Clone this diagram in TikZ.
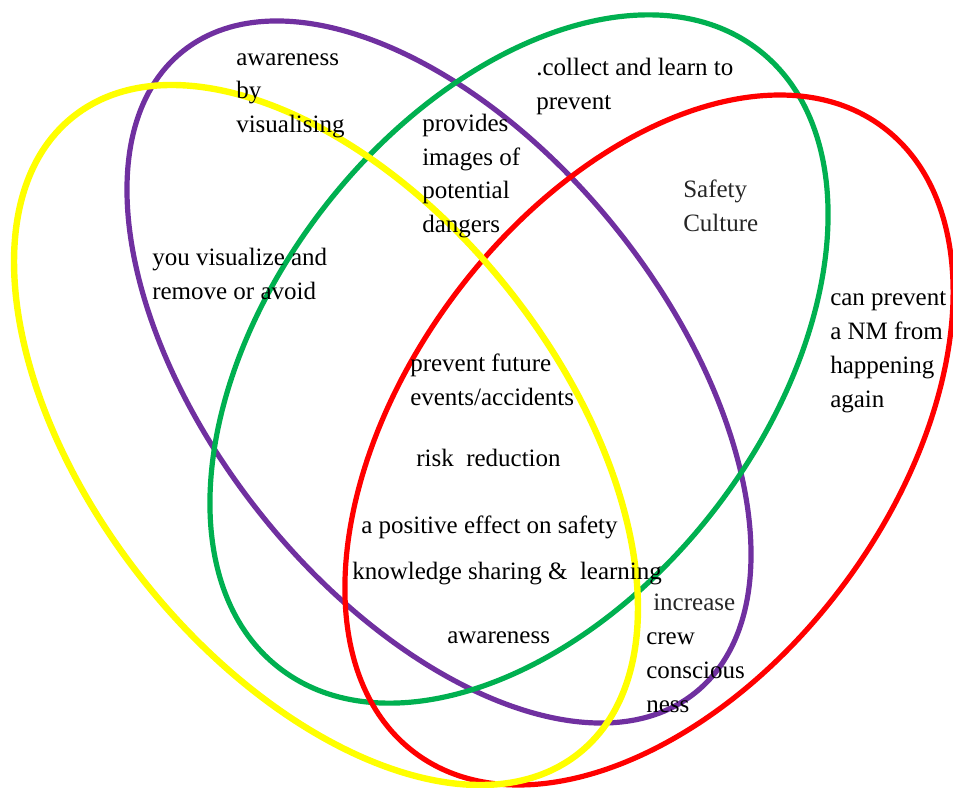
\documentclass[tikz,border=0pt]{standalone}
\usepackage{fontspec}
\setmainfont{Liberation Serif}
\definecolor{vyellow}{RGB}{255,255,0}
\definecolor{vpurple}{RGB}{112,48,160}
\definecolor{vgreen}{RGB}{0,176,80}
\definecolor{vred}{RGB}{255,0,0}
\tikzset{
  ring/.style={line width=3.9pt},
  % multi-line labels sit on the baseline of their last line
  lbl/.style={anchor=base west, inner sep=0pt, align=left,
    font=\fontsize{18.75}{25.5}\selectfont, text=black},
}
\begin{document}
\begin{tikzpicture}[x=0.75pt,y=-0.75pt]
\useasboundingbox (0,0) rectangle (953,788);
% the four overlapping sets
\draw[ring, vpurple, rotate around={-51.4:(439,372)}] (439,372) ellipse [x radius=307.9pt, y radius=171pt];
\draw[ring, vgreen, rotate around={52.2:(519,359)}] (519,359) ellipse [x radius=293.3pt, y radius=185.2pt];
\draw[ring, vred, rotate around={53.2:(649,440)}] (649,440) ellipse [x radius=293pt, y radius=181.9pt];
\draw[ring, vyellow, line width=4.8pt, rotate around={-51.56:(326,435)}] (326,435) ellipse [x radius=304.9pt, y radius=175.1pt];
% labels
\node[lbl] (vis) at (236,133) {awareness\\by\\visualising};
\node[lbl] (img) at (422,233) {provides\\images of\\potential\\dangers};
\node[lbl] (col) at (536,110) {.collect and learn to\\prevent};
\node[lbl, text=black!85] (cult) at (683,232) {Safety\\Culture};
\node[lbl] (nm) at (830,407) {can prevent\\a NM from\\happening\\again};
\node[lbl] (avo) at (152,299) {you visualize and\\remove or avoid};
\node[lbl] (fut) at (410,405) {prevent future\\events/accidents};
\node[lbl] (risk) at (416,466) {risk\ \ reduction};
\node[lbl] (pos) at (361,533) {a positive effect on safety};
\node[lbl] (know) at (352,579) {knowledge sharing \&\ \ learning};
\node[lbl] (awa) at (447,643) {awareness};
\node[lbl, text=black!85] (inc) at (653,610) {increase};
\node[lbl] (crew) at (646,712) {crew\\conscious\\ness};
\end{tikzpicture}
\end{document}
